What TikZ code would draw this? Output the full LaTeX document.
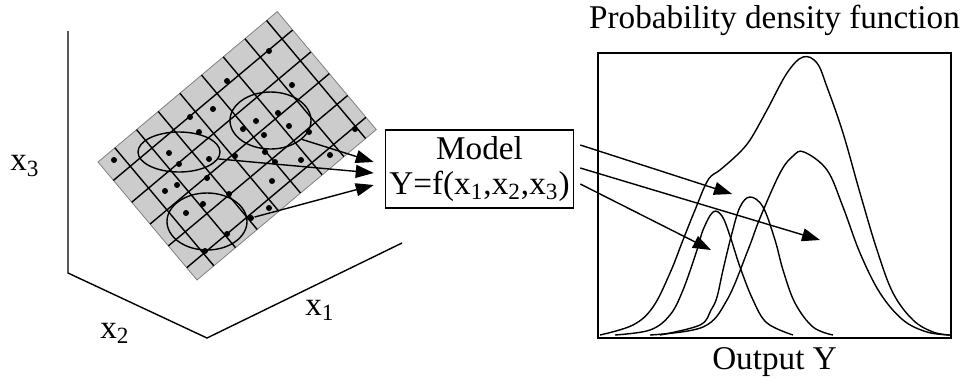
\documentclass[tikz,border=0pt]{standalone}
\usepackage{fontspec}
\setmainfont{Liberation Serif}
\usetikzlibrary{arrows.meta,positioning,shapes.geometric}

\tikzset{
  lbl/.style={font=\fontsize{16.6}{17.5}\selectfont},
  dot/.style={circle, fill, inner sep=0pt, minimum size=3pt},
  blob/.style={ellipse, draw, inner sep=0pt},
  arr/.style={-{Triangle[length=9pt,width=6.5pt]}},
}

\begin{document}
\begin{tikzpicture}[x=0.5pt, y=-0.5pt, line width=0.7pt]
\useasboundingbox (0,0) rectangle (973,381);
% input space
\begin{scope}[shift={(98,162)}, rotate=40]
\filldraw[fill=gray!40, draw=gray, line width=0.4pt] (0,0) rectangle (234,154);
\clip (0,0) rectangle (234,154);
\foreach \u in {0,...,7} \draw ({22+28.3*\u},0) -- ++(0,154);
\foreach \v in {0,...,4} \draw (0,{24+28.5*\v}) -- ++(234,0);
\end{scope}
\foreach \x/\y [count=\i] in {269/51,227/81,292/85,213/109,190/117,199/132,256/121,
  278/113,289/126,243/129,264/135,309/132,355/129,169/153,179/164,209/159,235/156,
  265/152,275/162,301/160,330/155,207/178,177/185,165/191,229/194,272/181,203/204,
  186/213,269/208,227/234,205/251,114/160}
  \node[dot] (d\i) at (\x,\y) {};
\node[dot] (src) at (251,218) {};
\node[blob, minimum width=40.5pt, minimum height=28.5pt] (e1) at (270.5,120.5) {};
\node[blob, minimum width=41pt, minimum height=20pt] (e2) at (179,152) {};
\node[blob, minimum width=40pt, minimum height=28.5pt] (e3) at (207,221.5) {};
\coordinate (top) at (68,31);
\coordinate (corner) at (68,273);
\coordinate (o) at (207,338);
\coordinate (x1end) at (402,243);
\draw (top) -- (corner) -- (o) -- (x1end);
\node[lbl] (x3) at (25,166) {x\textsubscript{3}};
\node[lbl] (x2) at (115,333) {x\textsubscript{2}};
\node[lbl] (x1) at (320,310) {x\textsubscript{1}};
% model
\node[lbl, draw, align=center, minimum width=91.5pt, minimum height=39pt, inner sep=2pt]
  (model) at (479.5,169) {Model\\Y=f(x\textsubscript{1},x\textsubscript{2},x\textsubscript{3})};
\draw[arr] (e1.-31) -- ([shift={(-11,-7)}]model.west);
\draw[arr] (e2.-10) -- ([shift={(-11,4)}]model.west);
\draw[arr] (src) -- ([shift={(-11,16)}]model.west);
% output pdf
\node[draw, line width=1pt, minimum width=176.5pt, minimum height=142.5pt, inner sep=0pt]
  (plot) at (774.5,195) {};
\node[lbl, above=4pt of plot] (title) {Probability density function};
\node[lbl, below=1pt of plot] (out) {Output Y};
\draw plot[smooth, tension=0.6] coordinates {(600,335) (633,325) (653,307) (670,273)
  (683,240) (695,210) (708,180) (720,170) (737,155) (750,140) (767,110) (787,73)
  (803,57) (817,63) (827,87) (843,133) (860,193) (877,250) (893,293) (913,320)
  (933,332) (950,335)};
\draw plot[smooth, tension=0.6] coordinates {(615,335) (650,330) (670,315) (683,290)
  (697,250) (703,230) (713,212) (722,216) (730,236) (740,267) (753,300) (767,323)
  (793,335)};
\draw plot[smooth, tension=0.6] coordinates {(660,335) (700,325) (711,310) (717,297)
  (723,270) (732,233) (740,207) (750,197) (763,207) (775,240) (783,270) (795,303)
  (813,327) (833,335)};
\draw plot[smooth, tension=0.6] coordinates {(650,335) (703,327) (727,300) (748,250)
  (760,218) (780,173) (793,156) (804,152) (827,170) (843,207) (860,253) (880,293)
  (903,320) (927,332) (950,335)};
\coordinate (t1) at (732,194);
\coordinate (t2) at (820,240);
\coordinate (t3) at (711,250);
\draw[arr] ([shift={(6,-24)}]model.east) -- (t1);
\draw[arr] ([shift={(6,-1)}]model.east) -- (t2);
\draw[arr] ([shift={(6,15)}]model.east) -- (t3);
\end{tikzpicture}
\end{document}
